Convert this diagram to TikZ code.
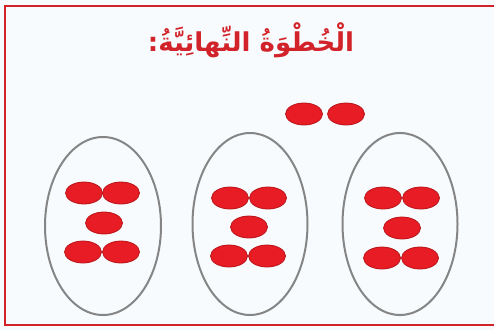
\documentclass[tikz,border=0pt]{standalone}
\usepackage{fontspec}
\TeXXeTstate=1
\newfontfamily\arabicfont[Script=Arabic]{DejaVu Sans}
\definecolor{framered}{HTML}{D2232A}
\definecolor{dotred}{HTML}{E81C24}
\definecolor{dotedge}{HTML}{B81419}
\definecolor{ringgray}{HTML}{858585}
\definecolor{bgc}{HTML}{F8FBFD}
\tikzset{
  dot/.style={ellipse, minimum width=37pt, minimum height=22pt, inner sep=0pt, fill=dotred, draw=dotedge, line width=0.8pt},
  ring/.style={ellipse, draw=ringgray, line width=2pt, inner sep=0pt},
  frameline/.style={draw=framered, line width=2pt}
}
\usetikzlibrary{shapes.geometric}
\begin{document}
\begin{tikzpicture}[x=1pt,y=-1pt]
\useasboundingbox (0,0) rectangle (494,330);
\fill[bgc] (0,0) rectangle (494,330);
\coordinate (tr) at (496,6);
\coordinate (tl) at (5,6);
\coordinate (bl) at (5,325);
\coordinate (br) at (496,325);
\draw[frameline] (tr) -- (tl) -- (bl) -- (br);
\node[text=framered, font=\arabicfont\bfseries\fontsize{26}{30}\selectfont] (title) at (251,40) {\beginR الْخُطْوَةُ النِّهائِيَّةُ:\endR};
% rings
\node[ring, minimum width=116pt, minimum height=178pt] (r1) at (103,226) {};
\node[ring, minimum width=115pt, minimum height=182pt] (r2) at (250,224) {};
\node[ring, minimum width=115pt, minimum height=182pt] (r3) at (400,224) {};
% top pair
\node[dot] (t1) at (304,114) {};
\node[dot] (t2) at (346,114) {};
% ring 1 dots
\node[dot] (a1) at (84,193) {};
\node[dot] (a2) at (121,193) {};
\node[dot] (a3) at (104,223) {};
\node[dot] (a4) at (83,252) {};
\node[dot] (a5) at (121,252) {};
% ring 2 dots
\node[dot] (b1) at (230,198) {};
\node[dot] (b2) at (268,198) {};
\node[dot] (b3) at (249,227) {};
\node[dot] (b4) at (229,256) {};
\node[dot] (b5) at (267,256) {};
% ring 3 dots
\node[dot] (c1) at (383,198) {};
\node[dot] (c2) at (421,198) {};
\node[dot] (c3) at (402,228) {};
\node[dot] (c4) at (382,258) {};
\node[dot] (c5) at (420,258) {};
\end{tikzpicture}
\end{document}
